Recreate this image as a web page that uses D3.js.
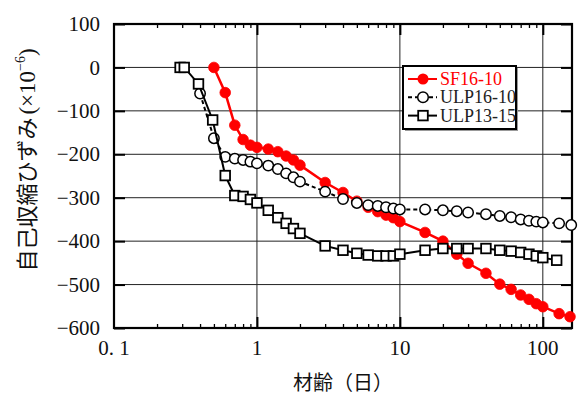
<!DOCTYPE html>
<html>
<head>
<meta charset="utf-8">
<script src="https://cdn.jsdelivr.net/npm/d3@7"></script>
<style>
  html, body { margin: 0; padding: 0; background: #fff; }
  svg { display: block; }
</style>
</head>
<body>
<div id="chart"></div>
<script>
// Autogenous shrinkage strain (×10^-6) versus age in days (log scale)
const sfDays = [0.5, 0.6, 0.7, 0.8, 0.9, 1.0, 1.2, 1.4, 1.6, 1.8, 2.0, 3, 4, 5, 6, 7, 8, 9, 10, 15, 20, 25, 30, 40, 50, 60, 70, 80, 90, 100, 130, 155];
const sfStrain = [0, -58, -133, -166, -179, -184, -188, -194, -204, -213, -225, -265, -288, -308, -322, -332, -340, -346, -355, -380, -400, -430, -451, -474, -499, -511, -524, -534, -544, -551, -567, -574];

const ulp1610Days = [0.4, 0.5, 0.6, 0.7, 0.8, 0.9, 1.0, 1.2, 1.4, 1.6, 1.8, 2.0, 3, 4, 5, 6, 7, 8, 9, 10, 15, 20, 25, 30, 40, 50, 60, 70, 80, 90, 100, 130, 158];
const ulp1610Strain = [-60, -163, -206, -210, -213, -217, -221, -226, -234, -244, -253, -263, -286, -303, -312, -317, -319, -322, -325, -327, -327, -329, -331, -334, -338, -342, -345, -350, -353, -355, -357, -359, -363];

const ulp1315Days = [0.29, 0.31, 0.39, 0.49, 0.6, 0.7, 0.8, 0.9, 1.0, 1.2, 1.4, 1.6, 1.8, 2.0, 3, 4, 5, 6, 7, 8, 9, 10, 15, 20, 25, 30, 40, 50, 60, 70, 80, 90, 100, 125];
const ulp1315Strain = [0, 0, -38, -121, -249, -295, -297, -304, -312, -329, -346, -359, -371, -382, -411, -421, -428, -432, -434, -434, -434, -430, -421, -417, -417, -417, -417, -421, -423, -426, -430, -434, -438, -444];

const seriesNames = ["SF16-10", "ULP16-10", "ULP13-15"];
const xTickValues = [0.1, 1, 10, 100];
const xTickLabels = ["0. 1", "1", "10", "100"];
const yTickValues = [100, 0, -100, -200, -300, -400, -500, -600];

const W = 579, H = 397;
const plot = { left: 114, right: 572, top: 24, bottom: 328 };

const svg = d3.select("#chart").append("svg")
  .attr("width", W).attr("height", H);

const x = d3.scaleLog().domain([0.1, 160]).range([plot.left, plot.right]);
const y = d3.scaleLinear().domain([-600, 100]).range([plot.bottom, plot.top]);

const serif = "'Liberation Serif', 'DejaVu Serif', serif";
const cjk = "'Noto Sans CJK JP', 'Noto Sans CJK SC', sans-serif";

// grid lines
const grid = svg.append("g");
yTickValues.filter(v => v > -600 && v < 100).forEach(v => {
  grid.append("line")
    .attr("x1", plot.left).attr("x2", plot.right)
    .attr("y1", y(v)).attr("y2", y(v))
    .attr("stroke", "#222").attr("stroke-width", 1);
});
[1, 10, 100].forEach(v => {
  grid.append("line")
    .attr("x1", x(v)).attr("x2", x(v))
    .attr("y1", plot.top).attr("y2", plot.bottom)
    .attr("stroke", "#222").attr("stroke-width", 1);
});

// inward ticks via d3 axes
const minorX = [];
for (let dec = 0.1; dec < 200; dec *= 10) {
  for (let k = 2; k <= 9; k++) {
    const v = +(dec * k).toPrecision(3);
    if (v < 160) minorX.push(v);
  }
}
function styleTicks(g, w) {
  g.select(".domain").remove();
  g.selectAll(".tick line").attr("stroke", "#000").attr("stroke-width", w);
  g.selectAll(".tick text").remove();
}
// bottom
svg.append("g").attr("transform", `translate(0,${plot.bottom})`)
  .call(d3.axisBottom(x).tickValues(minorX).tickSize(-4).tickFormat(""))
  .call(g => styleTicks(g, 1.3));
svg.append("g").attr("transform", `translate(0,${plot.bottom})`)
  .call(d3.axisBottom(x).tickValues([1, 10, 100]).tickSize(-11).tickFormat(""))
  .call(g => styleTicks(g, 2));
// top
svg.append("g").attr("transform", `translate(0,${plot.top})`)
  .call(d3.axisTop(x).tickValues(minorX).tickSize(-4).tickFormat(""))
  .call(g => styleTicks(g, 1.3));
svg.append("g").attr("transform", `translate(0,${plot.top})`)
  .call(d3.axisTop(x).tickValues([1, 10, 100]).tickSize(-11).tickFormat(""))
  .call(g => styleTicks(g, 2));
// left / right
svg.append("g").attr("transform", `translate(${plot.left},0)`)
  .call(d3.axisLeft(y).tickValues(yTickValues).tickSize(-11).tickFormat(""))
  .call(g => styleTicks(g, 2));
svg.append("g").attr("transform", `translate(${plot.right},0)`)
  .call(d3.axisRight(y).tickValues(yTickValues).tickSize(-11).tickFormat(""))
  .call(g => styleTicks(g, 2));

// tick labels
svg.append("g").selectAll("text").data(yTickValues).join("text")
  .attr("x", 100).attr("y", d => y(d))
  .attr("dy", "0.34em")
  .attr("text-anchor", "end")
  .attr("font-family", serif).attr("font-size", 21)
  .attr("fill", "#111")
  .text(d => d < 0 ? "\u2212" + Math.abs(d) : String(d));

svg.append("g").selectAll("text").data(xTickValues).join("text")
  .attr("x", d => x(d)).attr("y", 355)
  .attr("text-anchor", "middle")
  .attr("font-family", serif).attr("font-size", 21)
  .attr("fill", "#111")
  .text((d, i) => xTickLabels[i]);

// axis titles
svg.append("text")
  .attr("x", (plot.left + plot.right) / 2).attr("y", 390)
  .attr("text-anchor", "middle")
  .attr("font-family", cjk).attr("font-size", 20)
  .attr("fill", "#111")
  .text("材齢（日）");

const yTitle = svg.append("text")
  .attr("transform", "translate(35,160) rotate(-90)")
  .attr("text-anchor", "middle")
  .attr("font-family", cjk).attr("font-size", 22)
  .attr("fill", "#111");
yTitle.append("tspan").text("自己収縮ひずみ");
yTitle.append("tspan").attr("font-family", serif).attr("font-size", 23).attr("dx", 3).text("(×10");
yTitle.append("tspan").attr("font-family", serif).attr("font-size", 14).attr("dy", -10).text("\u22126");
yTitle.append("tspan").attr("font-family", serif).attr("font-size", 23).attr("dy", 10).text(")");

// plot frame
svg.append("rect")
  .attr("x", plot.left).attr("y", plot.top)
  .attr("width", plot.right - plot.left).attr("height", plot.bottom - plot.top)
  .attr("fill", "none").attr("stroke", "#000").attr("stroke-width", 2.2);

// series
const line = d3.line().x(d => x(d[0])).y(d => y(d[1]));
const sf = sfDays.map((d, i) => [d, sfStrain[i]]);
const u1 = ulp1610Days.map((d, i) => [d, ulp1610Strain[i]]);
const u2 = ulp1315Days.map((d, i) => [d, ulp1315Strain[i]]);

const data = svg.append("g");

data.append("path").datum(sf).attr("d", line)
  .attr("fill", "none").attr("stroke", "#ff0000").attr("stroke-width", 2.5);
data.append("g").selectAll("circle").data(sf).join("circle")
  .attr("cx", d => x(d[0])).attr("cy", d => y(d[1])).attr("r", 5.3)
  .attr("fill", "#ff0000").attr("stroke", "#ff0000").attr("stroke-width", 0.8);

data.append("path").datum(u1).attr("d", line)
  .attr("fill", "none").attr("stroke", "#000").attr("stroke-width", 2)
  .attr("stroke-dasharray", "4,3");
data.append("g").selectAll("circle").data(u1).join("circle")
  .attr("cx", d => x(d[0])).attr("cy", d => y(d[1])).attr("r", 5.2)
  .attr("fill", "#fff").attr("stroke", "#000").attr("stroke-width", 1.5);

data.append("path").datum(u2).attr("d", line)
  .attr("fill", "none").attr("stroke", "#000").attr("stroke-width", 2);
data.append("g").selectAll("rect").data(u2).join("rect")
  .attr("x", d => x(d[0]) - 4.8).attr("y", d => y(d[1]) - 4.8)
  .attr("width", 9.6).attr("height", 9.6)
  .attr("fill", "#fff").attr("stroke", "#000").attr("stroke-width", 1.8);

// legend
const lg = svg.append("g").attr("transform", "translate(403,66)");
lg.append("rect").attr("x", 2).attr("y", 2).attr("width", 113).attr("height", 63)
  .attr("fill", "#999");
lg.append("rect").attr("x", 0).attr("y", 0).attr("width", 113).attr("height", 63)
  .attr("fill", "#fff").attr("stroke", "#000").attr("stroke-width", 2);

const rows = [
  { name: seriesNames[0], color: "#ff0000", dash: null, mark: "dot" },
  { name: seriesNames[1], color: "#222", dash: "4,3", mark: "circle" },
  { name: seriesNames[2], color: "#222", dash: null, mark: "square" }
];
rows.forEach((r, i) => {
  const cy = 13 + i * 18.3;
  const g = lg.append("g");
  g.append("line").attr("x1", 5).attr("x2", 34).attr("y1", cy).attr("y2", cy)
    .attr("stroke", r.mark === "dot" ? "#ff0000" : "#000").attr("stroke-width", 2)
    .attr("stroke-dasharray", r.dash);
  if (r.mark === "dot") {
    g.append("circle").attr("cx", 20).attr("cy", cy).attr("r", 5.5).attr("fill", "#ff0000");
  } else if (r.mark === "circle") {
    g.append("circle").attr("cx", 20).attr("cy", cy).attr("r", 5.3)
      .attr("fill", "#fff").attr("stroke", "#000").attr("stroke-width", 1.5);
  } else {
    g.append("rect").attr("x", 20 - 4.8).attr("y", cy - 4.8).attr("width", 9.6).attr("height", 9.6)
      .attr("fill", "#fff").attr("stroke", "#000").attr("stroke-width", 1.8);
  }
  g.append("text").attr("x", 37).attr("y", cy + 6)
    .attr("font-family", serif).attr("font-size", 18)
    .attr("fill", r.color).text(r.name);
});
</script>
</body>
</html>
